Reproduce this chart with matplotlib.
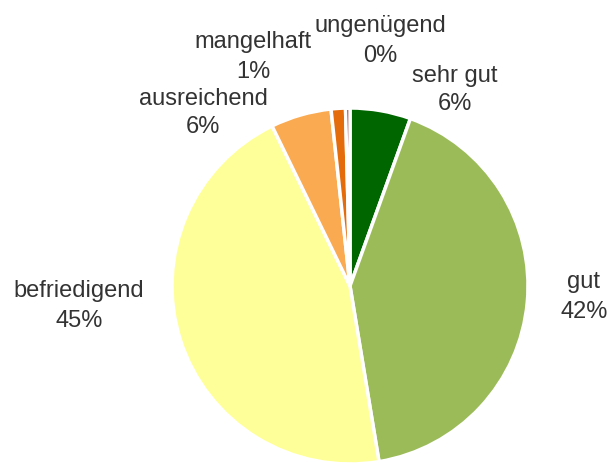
import matplotlib
matplotlib.use("Agg")
import matplotlib.pyplot as plt

categories = ["sehr gut", "gut", "befriedigend", "ausreichend", "mangelhaft", "ungenügend"]
values = [5.5, 41.8, 45.3, 5.5, 1.3, 0.4]
pct_labels = ["6%", "42%", "45%", "6%", "1%", "0%"]
colors = ["#006600", "#9BBB59", "#FFFF99", "#FAAA50", "#E46C0A", "#A0282A"]

W, H = 609, 463
cx, cy, R = 350, 286, 178
fig = plt.figure(figsize=(W / 100, H / 100), dpi=100)
ax = fig.add_axes([(cx - R) / W, (H - cy - R) / H, 2 * R / W, 2 * R / H])
ax.pie(values, colors=colors, startangle=90, counterclock=False, radius=1,
       wedgeprops=dict(edgecolor="white", linewidth=2.5))
ax.set_xlim(-1, 1)
ax.set_ylim(-1, 1)
ax.set_aspect("equal")
ax.axis("off")
for p in ax.patches:
    p.set_clip_on(False)

# (x centre, baseline of name line, baseline of percent line) in pixels
label_px = [(455, 82, 110), (584, 288, 318), (79, 297, 327),
            (203, 105, 133), (253, 48, 78), (380, 32, 62)]
style = dict(ha="center", va="baseline", fontsize=17, family="Liberation Sans",
             color="#333333", clip_on=False)
for cat, pct, (px, b1, b2) in zip(categories, pct_labels, label_px):
    ax.text((px - cx) / R, (cy - b1) / R, cat, **style)
    ax.text((px - cx) / R, (cy - b2) / R, pct, **style)

fig.savefig("out.png", dpi=100)
